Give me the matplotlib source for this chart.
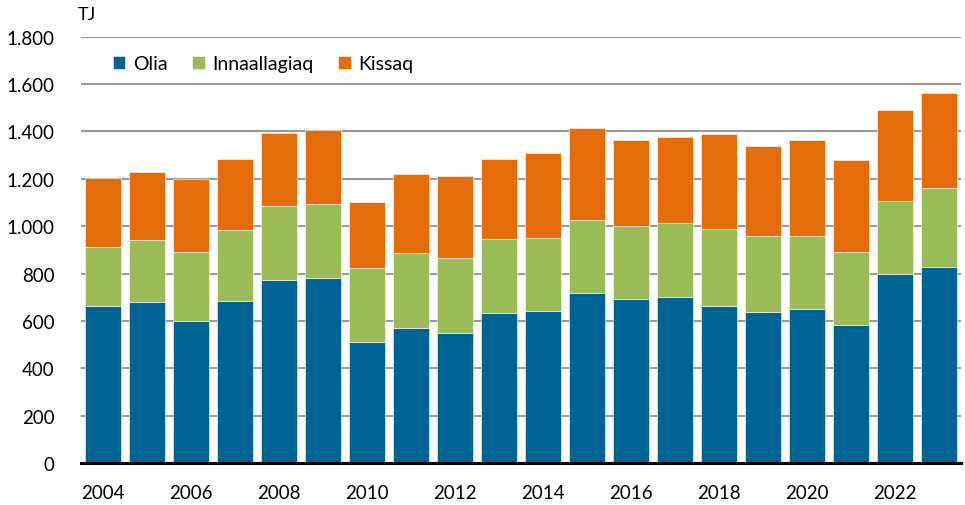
import matplotlib
matplotlib.use("Agg")
import matplotlib.pyplot as plt
import numpy as np
from matplotlib.ticker import FuncFormatter

# Energy use in TJ by source
years = list(range(2004, 2024))
olia = [661, 678, 599, 682, 771, 782, 513, 572, 551, 633,
        640, 716, 693, 699, 661, 636, 650, 584, 796, 827]
innaallagiaq = [249, 265, 293, 303, 316, 313, 310, 315, 314, 314,
                308, 311, 309, 314, 328, 324, 310, 308, 310, 336]
kissaq = [295, 286, 307, 299, 307, 310, 279, 335, 347, 338,
          363, 388, 360, 365, 401, 379, 404, 389, 385, 399]
series_names = ["Olia", "Innaallagiaq", "Kissaq"]
colors = ["#006394", "#9BBB59", "#E46C0A"]

plt.rcParams["font.family"] = ["Lato", "DejaVu Sans"]

fig = plt.figure(figsize=(9.65, 5.06), dpi=100)
ax = fig.add_axes([81 / 965, 1 - 464 / 506, 880 / 965, (464 - 37.7) / 506])

x = np.arange(len(years))
bottom = np.zeros(len(years))
for name, vals, col in zip(series_names, [olia, innaallagiaq, kissaq], colors):
    ax.bar(x, vals, width=0.83, bottom=bottom, color=col, label=name,
           edgecolor="white", linewidth=0.4, zorder=3)
    bottom += np.array(vals)

ax.set_xlim(-0.5, len(years) - 0.5)
ax.set_ylim(0, 1800)
ax.set_yticks(range(0, 1801, 200))
ax.yaxis.set_major_formatter(FuncFormatter(lambda v, p: f"{int(v):,}".replace(",", ".")))
ax.set_xticks(x[::2])
ax.set_xticklabels([str(y) for y in years[::2]])

ax.grid(axis="y", color="#999999", linewidth=1.5, zorder=0)
for s in ["top", "right", "left"]:
    ax.spines[s].set_visible(False)
ax.spines["bottom"].set_linewidth(2.2)
ax.spines["bottom"].set_color("black")
ax.spines["bottom"].set_zorder(4)
ax.tick_params(axis="both", length=0, labelsize=13.5, colors="#000000")
ax.tick_params(axis="y", pad=19)
ax.tick_params(axis="x", pad=15)

fig.text(78 / 965, 1 - 15 / 506, "TJ", fontsize=13, va="center", ha="left")

ax.legend(loc="upper left", bbox_to_anchor=(0.016, 0.998), ncol=3, frameon=False,
          fontsize=14, handlelength=0.65, handleheight=0.65, handletextpad=0.4,
          columnspacing=1.25)

fig.savefig("out.png", dpi=100)
